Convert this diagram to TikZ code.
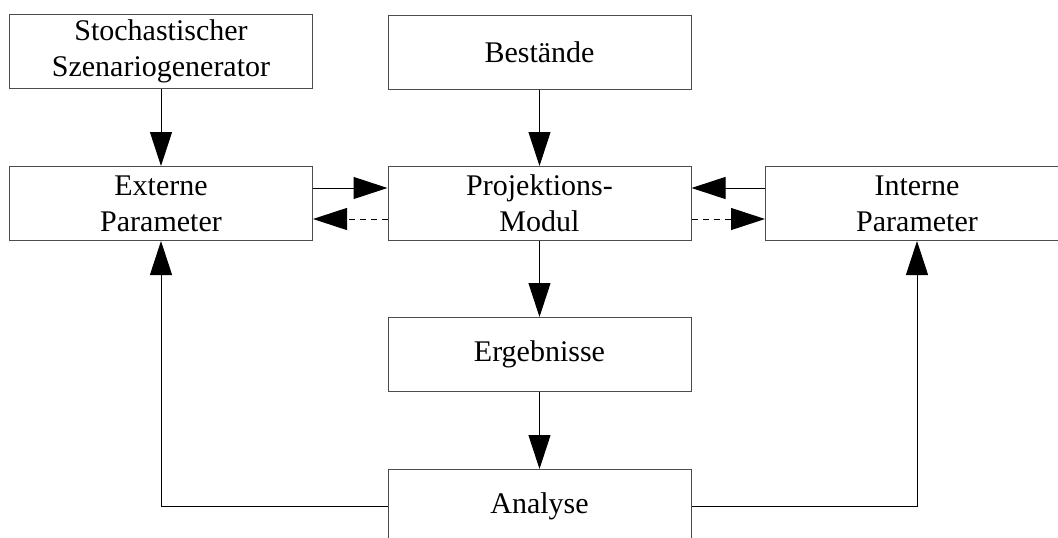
\documentclass[tikz,border=0pt]{standalone}
\usepackage{fontspec}
\setmainfont{Liberation Serif}
\usetikzlibrary{arrows.meta}
\begin{document}
\begin{tikzpicture}[x=1pt,y=-1pt,
  box/.style={draw=black!70, line width=1pt, minimum width=303pt, minimum height=74pt, inner sep=0pt, align=center, font=\fontsize{30}{36}\selectfont},
  conn/.style={draw=black, line width=1pt, -{Triangle[length=34pt,width=22pt]}},
  dconn/.style={conn, dash pattern=on 6pt off 5pt}]
\useasboundingbox (0,0) rectangle (1058,538);
\clip (0,0) rectangle (1058,538);
\node[box] (stoch) at (161,51.5) {Stochastischer\\Szenariogenerator};
\node[box] (ext) at (161,203.5) {Externe\\Parameter};
\node[box] (best) at (539.5,52) {Bestände};
\node[box] (proj) at (539.5,203.5) {Projektions-\\Modul};
\node[box] (erg) at (539.5,354.5) {Ergebnisse};
\node[box] (ana) at (539.5,506.5) {Analyse};
\node[box] (int) at (917,203.5) {Interne\\Parameter};
\draw[conn] (stoch) -- (ext);
\draw[conn] (best) -- (proj);
\draw[conn] (proj) -- (erg);
\draw[conn] (erg) -- (ana);
\draw[conn] ([yshift=15.5pt]ext.east) -- ([yshift=15.5pt]proj.west);
\draw[dconn] ([yshift=-15.5pt]proj.west) -- ([yshift=-15.5pt]ext.east);
\draw[conn] ([yshift=15.5pt]int.west) -- ([yshift=15.5pt]proj.east);
\draw[dconn] ([yshift=-15.5pt]proj.east) -- ([yshift=-15.5pt]int.west);
\draw[conn] (ana.west) -| (ext.south);
\draw[conn] (ana.east) -| (int.south);
\end{tikzpicture}
\end{document}
